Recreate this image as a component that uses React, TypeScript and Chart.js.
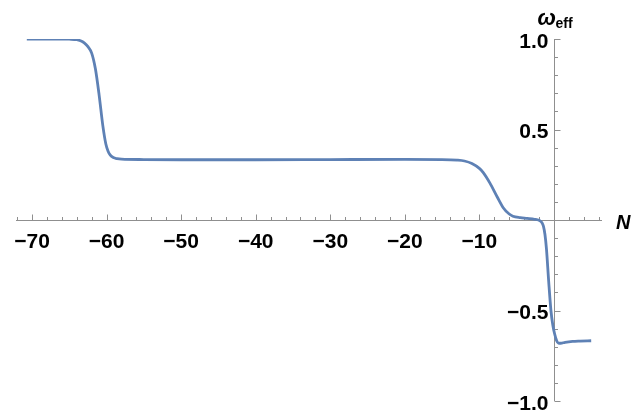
import React, { useEffect, useRef } from "react";
import { Chart, registerables } from "chart.js";

Chart.register(...registerables);

const nValues = [
  -70.7, -68, -66, -65, -64, -63.5, -63.0, -62.5, -62.0, -61.5, -61.0, -60.5, -60.1, -59.8,
  -59.5, -59.1, -58.6, -58.0, -55, -50, -40, -30, -20, -15, -13, -12, -11, -10, -9.5, -8.6,
  -7.6, -6.8, -6.0, -5.5, -4.5, -3.6, -2.6, -2.0, -1.6, -1.4, -1.2, -1.0, -0.7, -0.4, -0.15,
  0.1, 0.35, 0.6, 0.9, 1.5, 2.5, 3.5, 5.0,
];
const omegaValues = [
  1.0, 1.0, 1.0, 0.999, 0.996, 0.99, 0.979, 0.958, 0.922, 0.835, 0.69, 0.52, 0.42, 0.38,
  0.358, 0.345, 0.339, 0.336, 0.334, 0.333, 0.333, 0.334, 0.335, 0.334, 0.331, 0.326, 0.312,
  0.285, 0.263, 0.205, 0.127, 0.068, 0.033, 0.021, 0.013, 0.009, 0.004, -0.002, -0.015,
  -0.035, -0.08, -0.16, -0.34, -0.5, -0.58, -0.63, -0.665, -0.68, -0.681, -0.676, -0.671,
  -0.669, -0.667,
];

const xMajorTicks = [-70, -60, -50, -40, -30, -20, -10];
const xTickLabels = ["\u221270", "\u221260", "\u221250", "\u221240", "\u221230", "\u221220", "\u221210"];
const yMajorTicks = [1.0, 0.5, -0.5, -1.0];
const yTickLabels = ["1.0", "0.5", "\u22120.5", "\u22121.0"];
const xMinorStep = 2;
const yMinorStep = 0.1;

const AXIS_COLOR = "#8f8f8f";
const LINE_COLOR = "#5E81B5";

const axesPlugin = {
  id: "mmaAxes",
  beforeDatasetsDraw(chart: any) {
    const ctx = chart.ctx as CanvasRenderingContext2D;
    const xs = chart.scales.x;
    const ys = chart.scales.y;
    const x0 = Math.round(xs.getPixelForValue(0)) + 0.5;
    const y0 = Math.round(ys.getPixelForValue(0)) + 0.5;
    ctx.save();
    ctx.strokeStyle = AXIS_COLOR;
    ctx.lineWidth = 1;
    ctx.beginPath();
    ctx.moveTo(xs.left, y0);
    ctx.lineTo(xs.right, y0);
    ctx.moveTo(x0, ys.getPixelForValue(1.0));
    ctx.lineTo(x0, ys.getPixelForValue(-1.0));
    ctx.stroke();

    ctx.beginPath();
    const startX = Math.ceil(xs.min / xMinorStep) * xMinorStep;
    for (let v = startX; v <= xs.max + 1e-9; v += xMinorStep) {
      if (Math.abs(v) < 1e-9) continue;
      const px = Math.round(xs.getPixelForValue(v)) + 0.5;
      const major = Math.abs(v % 10) < 1e-9;
      const len = major ? 6 : 3.5;
      ctx.moveTo(px, y0);
      ctx.lineTo(px, y0 - len);
    }
    for (let i = -10; i <= 10; i++) {
      if (i === 0) continue;
      const v = i * yMinorStep;
      const py = Math.round(ys.getPixelForValue(v)) + 0.5;
      const major = i % 5 === 0;
      const len = major ? 6 : 3.5;
      ctx.moveTo(x0, py);
      ctx.lineTo(x0 + len, py);
    }
    ctx.stroke();

    ctx.fillStyle = "#000";
    ctx.font = "bold 21px 'Liberation Sans', Arial, sans-serif";
    ctx.textAlign = "center";
    ctx.textBaseline = "alphabetic";
    xMajorTicks.forEach((v, i) => {
      const px = xs.getPixelForValue(v);
      ctx.fillText(xTickLabels[i], px, y0 + 27);
    });
    ctx.textAlign = "right";
    yMajorTicks.forEach((v, i) => {
      const py = ys.getPixelForValue(v);
      ctx.fillText(yTickLabels[i], x0 - 6, py + 8.5);
    });

    ctx.textAlign = "left";
    ctx.font = "italic bold 22px 'Liberation Sans', Arial, sans-serif";
    ctx.fillText("\u03c9", x0 - 17, 25);
    ctx.font = "bold 14px 'Liberation Sans', Arial, sans-serif";
    ctx.fillText("eff", x0 + 1, 27.5);
    ctx.font = "italic bold 20px 'Liberation Sans', Arial, sans-serif";
    ctx.fillText("N", 616, y0 + 8);
    ctx.restore();
  },
};

export default function App() {
  const ref = useRef<HTMLCanvasElement | null>(null);
  useEffect(() => {
    if (!ref.current) return;
    const data = nValues.map((n, i) => ({ x: n, y: omegaValues[i] }));
    const chart = new Chart(ref.current, {
      type: "line",
      data: {
        datasets: [
          {
            data,
            borderColor: LINE_COLOR,
            borderWidth: 2.8,
            pointRadius: 0,
            fill: false,
            cubicInterpolationMode: "monotone",
          },
        ],
      },
      options: {
        responsive: false,
        animation: false,
        events: [],
        layout: { padding: { left: 16, right: 42, top: 39, bottom: 13 } },
        plugins: { legend: { display: false }, tooltip: { enabled: false } },
        scales: {
          x: { type: "linear", min: -72.15, max: 6.45, display: false },
          y: { type: "linear", min: -1, max: 1, display: false },
        },
      },
      plugins: [axesPlugin],
    });
    return () => chart.destroy();
  }, []);
  return (
    <div style={{ position: "fixed", left: 0, top: 0, width: 644, height: 414, background: "#fff" }}>
      <canvas ref={ref} width={644} height={414} style={{ width: 644, height: 414 }} />
    </div>
  );
}
